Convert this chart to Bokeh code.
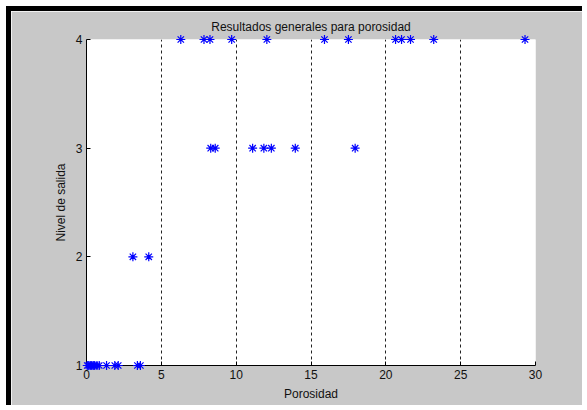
from bokeh.plotting import figure
from bokeh.embed import file_html
from bokeh.resources import INLINE
from bokeh.models import FixedTicker, ColumnDataSource

# Data (porosity vs output level)
por_n1 = [0.05, 0.15, 0.25, 0.35, 0.45, 0.55, 0.7, 0.85, 1.34, 1.89, 2.12, 3.4, 3.6]
por_n2 = [3.1, 4.16]
por_n3 = [8.3, 8.6, 11.1, 11.85, 12.35, 13.95, 17.95]
por_n4 = [6.3, 7.85, 8.25, 9.7, 12.05, 15.9, 17.5, 20.65, 21.05, 21.65, 23.2, 29.3]

x_ticks = [0, 5, 10, 15, 20, 25, 30]
y_ticks = [1, 2, 3, 4]

xs = por_n1 + por_n2 + por_n3 + por_n4
ys = [1] * len(por_n1) + [2] * len(por_n2) + [3] * len(por_n3) + [4] * len(por_n4)
src = ColumnDataSource(dict(x=xs, y=ys))

GRAY = "#c8c8c8"
FONT = "Liberation Sans"

p = figure(width=576, height=399, x_range=(0, 30), y_range=(1, 4),
           output_backend="svg", toolbar_location=None,
           min_border_left=75, min_border_right=52, min_border_top=28, min_border_bottom=45,
           title="Resultados generales para porosidad")
p.styles = {"margin-left": "6px", "margin-top": "6px",
            "border-left": "5px solid black", "border-top": "5px solid black"}

p.background_fill_color = "white"
p.border_fill_color = GRAY
p.outline_line_color = None

p.title.align = "center"
p.title.text_font = FONT
p.title.text_font_size = "12px"
p.title.text_font_style = "normal"
p.title.text_color = "#111111"
p.title.offset = 0
p.title.standoff = 12

r = p.scatter("x", "y", source=src, marker="asterisk", size=9, line_color="#0000ff",
              line_width=1.2)
r.level = "overlay"

for ax in (p.xaxis[0], p.yaxis[0]):
    ax.axis_line_color = "black"
    ax.major_tick_line_color = "black"
    ax.major_tick_in = 4
    ax.major_tick_out = 0
    ax.minor_tick_line_color = None
    ax.major_label_text_font = FONT
    ax.major_label_text_font_size = "12px"
    ax.major_label_text_color = "#111111"
    ax.axis_label_text_font = FONT
    ax.axis_label_text_font_size = "12px"
    ax.axis_label_text_font_style = "normal"
    ax.axis_label_text_color = "#111111"

p.xaxis.ticker = FixedTicker(ticks=x_ticks)
p.yaxis.ticker = FixedTicker(ticks=y_ticks)
p.xaxis.axis_label = "Porosidad"
p.yaxis.axis_label = "Nivel de salida"
p.xaxis.major_label_standoff = 4
p.yaxis.major_label_standoff = 4
p.xaxis.axis_label_standoff = 5
p.yaxis.axis_label_standoff = 5

p.xgrid.grid_line_color = "#222222"
p.xgrid.grid_line_dash = "3 3"
p.xgrid.grid_line_width = 1
p.ygrid.grid_line_color = None

open("out.html", "w").write(file_html(p, INLINE))
